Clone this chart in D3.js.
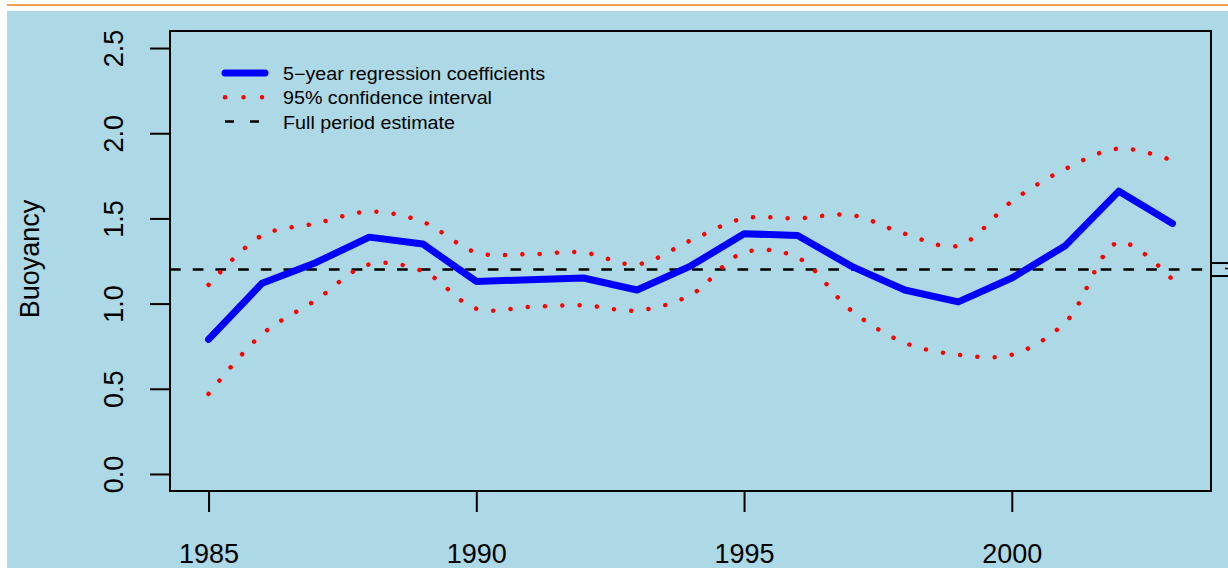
<!DOCTYPE html>
<html>
<head>
<meta charset="utf-8">
<script src="https://cdn.jsdelivr.net/npm/d3@7"></script>
<style>
  html, body { margin: 0; padding: 0; background: #fff; }
  svg { display: block; font-family: "Liberation Sans", Arial, Helvetica, sans-serif; }
</style>
</head>
<body>
<div id="chart"></div>
<script>
const years = [1985, 1986, 1987, 1988, 1989, 1990, 1991, 1992, 1993, 1994,
  1995, 1996, 1997, 1998, 1999, 2000, 2001, 2002, 2003];
const coef = [0.79, 1.12, 1.24, 1.39, 1.35, 1.13, 1.14, 1.15, 1.08, 1.22,
  1.41, 1.40, 1.22, 1.08, 1.01, 1.15, 1.34, 1.66, 1.47];
const upperCI = [1.11, 1.40, 1.47, 1.54, 1.48, 1.30, 1.29, 1.30, 1.23, 1.37,
  1.50, 1.50, 1.52, 1.41, 1.34, 1.60, 1.79, 1.91, 1.84];
const lowerCI = [0.47, 0.82, 1.02, 1.23, 1.19, 0.97, 0.98, 0.99, 0.96, 1.05,
  1.30, 1.27, 0.96, 0.77, 0.70, 0.70, 0.89, 1.36, 1.14];
const fullEstimate = 1.2;
const xTicks = [1985, 1990, 1995, 2000];
const yTicks = [0.0, 0.5, 1.0, 1.5, 2.0, 2.5];
const legendLabels = ["5\u2212year regression coefficients", "95% confidence interval", "Full period estimate"];

const width = 1228, height = 568;
const plot = { left: 170, top: 31, right: 1211, bottom: 491 };

const svg = d3.select("#chart").append("svg")
  .attr("width", width)
  .attr("height", height);

// page frame
svg.append("line")
  .attr("x1", 7).attr("x2", width).attr("y1", 5).attr("y2", 5)
  .attr("stroke", "#f0a050").attr("stroke-width", 2);
svg.append("rect")
  .attr("x", 7).attr("y", 11)
  .attr("width", width - 7).attr("height", height - 11)
  .attr("fill", "#add8e6");

// R style 4% padding on both axes
const x = d3.scaleLinear().domain([1984.28, 2003.72]).range([plot.left, plot.right]);
const y = d3.scaleLinear().domain([-0.1, 2.6]).range([plot.bottom, plot.top]);

// y axis
const yAxis = svg.append("g")
  .attr("transform", `translate(${plot.left},0)`)
  .call(d3.axisLeft(y).tickValues(yTicks).tickSize(20).tickSizeOuter(0).tickFormat(d3.format(".1f")));
yAxis.select(".domain").remove();
yAxis.selectAll(".tick line").attr("stroke", "#000").attr("stroke-width", 2);
yAxis.selectAll(".tick text")
  .attr("x", 0).attr("dy", null).attr("text-anchor", "middle")
  .attr("transform", "translate(-47,0) rotate(-90)")
  .attr("font-size", 27).attr("fill", "#000")
  .attr("font-family", "Liberation Sans, Arial, sans-serif");

// x axis
const xAxis = svg.append("g")
  .attr("transform", `translate(0,${plot.bottom})`)
  .call(d3.axisBottom(x).tickValues(xTicks).tickSize(21).tickSizeOuter(0).tickFormat(d3.format("d")));
xAxis.select(".domain").remove();
xAxis.selectAll(".tick line").attr("stroke", "#000").attr("stroke-width", 2);
xAxis.selectAll(".tick text")
  .attr("y", 72).attr("dy", null)
  .attr("font-size", 27).attr("fill", "#000")
  .attr("font-family", "Liberation Sans, Arial, sans-serif");

// y label
svg.append("text")
  .attr("transform", "translate(39,259) rotate(-90)")
  .attr("text-anchor", "middle")
  .attr("font-size", 27)
  .text("Buoyancy");

// full period estimate
svg.append("line")
  .attr("x1", plot.left).attr("x2", plot.right)
  .attr("y1", y(fullEstimate)).attr("y2", y(fullEstimate))
  .attr("stroke", "#000").attr("stroke-width", 2.5)
  .attr("stroke-dasharray", "10.7 12");

const smooth = d3.line().x((d, i) => x(years[i])).y(d => y(d)).curve(d3.curveCatmullRom);
const straight = d3.line().x((d, i) => x(years[i])).y(d => y(d));

[upperCI, lowerCI].forEach(s => {
  svg.append("path")
    .attr("d", smooth(s))
    .attr("fill", "none")
    .attr("stroke", "#ff0000").attr("stroke-width", 4.5)
    .attr("stroke-linecap", "round")
    .attr("stroke-dasharray", "0.01 17.3");
});

svg.append("path")
  .attr("d", straight(coef))
  .attr("fill", "none")
  .attr("stroke", "#0000ff").attr("stroke-width", 7)
  .attr("stroke-linecap", "round").attr("stroke-linejoin", "round");

// plot box
svg.append("rect")
  .attr("x", plot.left).attr("y", plot.top)
  .attr("width", plot.right - plot.left).attr("height", plot.bottom - plot.top)
  .attr("fill", "none").attr("stroke", "#000").attr("stroke-width", 2);

// clipped box at right margin
svg.append("rect")
  .attr("x", plot.right).attr("y", y(fullEstimate) - 6.5)
  .attr("width", 40).attr("height", 13)
  .attr("fill", "none").attr("stroke", "#000").attr("stroke-width", 2);
svg.append("line")
  .attr("x1", 1225).attr("x2", 1228)
  .attr("y1", y(fullEstimate) - 1).attr("y2", y(fullEstimate) - 1)
  .attr("stroke", "#000").attr("stroke-width", 1.5);

// legend
const legend = svg.append("g").attr("transform", "translate(225,73)");
const rowGap = 24.3;
const textWidths = [262, 209, 172];
legendLabels.forEach((label, i) => {
  const row = legend.append("g").attr("transform", `translate(0,${i * rowGap})`);
  const ln = row.append("line").attr("x1", 0).attr("x2", 40).attr("y1", 0).attr("y2", 0);
  if (i === 0) {
    ln.attr("stroke", "#0000ff").attr("stroke-width", 7).attr("stroke-linecap", "round");
  } else if (i === 1) {
    ln.attr("stroke", "#ff0000").attr("stroke-width", 4.5).attr("stroke-linecap", "round")
      .attr("stroke-dasharray", "0.01 18.5");
  } else {
    ln.attr("x2", 36).attr("stroke", "#000").attr("stroke-width", 2.5)
      .attr("stroke-dasharray", "9 16");
  }
  row.append("text")
    .attr("x", 58).attr("y", 7)
    .attr("font-size", 17.5)
    .attr("textLength", textWidths[i])
    .attr("lengthAdjust", "spacingAndGlyphs")
    .text(label);
});
</script>
</body>
</html>
